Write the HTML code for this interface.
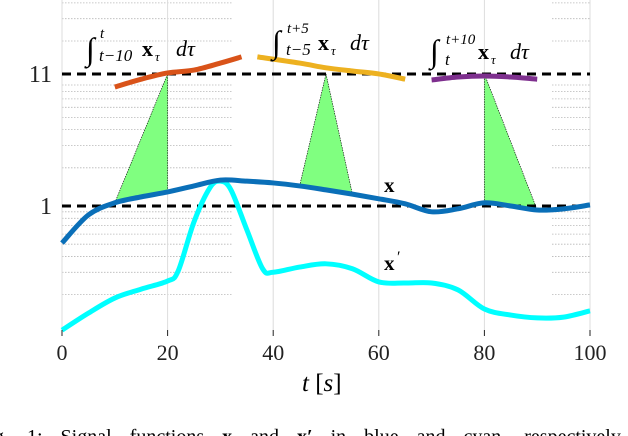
<!DOCTYPE html>
<html><head><meta charset="utf-8"><style>
body{margin:0;background:#fff;width:628px;height:436px;overflow:hidden;position:relative;font-family:"Liberation Serif",serif}
svg{position:absolute;left:0;top:0}
text{font-family:"Liberation Serif",serif}
</style></head><body>
<svg id="chart" width="628" height="436" xmlns="http://www.w3.org/2000/svg">
<g id="grid"></g>
<g id="tri"></g>
<g id="ref"></g>
<g id="lines"></g>
<g id="axes"></g>
<text x="384" y="192" font-size="21" font-weight="bold">x</text>
<text x="384" y="270" font-size="21" font-weight="bold">x</text>
<text x="397" y="262" font-size="16">′</text>
<g font-size="22">
<text x="86" y="60" font-size="32">∫</text>
<text x="100" y="38" font-size="15" font-style="italic">t</text>
<text x="99" y="61" font-size="17" font-style="italic">t−10</text>
<text x="142" y="56" font-weight="bold">x</text>
<text x="155" y="61" font-size="13" font-style="italic">τ</text>
<text x="176" y="56" font-style="italic">dτ</text>
</g>
<g font-size="22">
<text x="272" y="53" font-size="32">∫</text>
<text x="287" y="33" font-size="15" font-style="italic">t+5</text>
<text x="286" y="55" font-size="17" font-style="italic">t−5</text>
<text x="318" y="50" font-weight="bold">x</text>
<text x="331" y="55" font-size="13" font-style="italic">τ</text>
<text x="350" y="50" font-style="italic">dτ</text>
</g>
<g font-size="22">
<text x="430" y="62" font-size="32">∫</text>
<text x="446" y="44" font-size="15" font-style="italic">t+10</text>
<text x="445" y="65" font-size="17" font-style="italic">t</text>
<text x="478" y="59" font-weight="bold">x</text>
<text x="491" y="64" font-size="13" font-style="italic">τ</text>
<text x="510" y="59" font-style="italic">dτ</text>
</g>
<text x="302" y="391" font-size="25"><tspan font-style="italic">t</tspan> [<tspan font-style="italic">s</tspan>]</text>
<text x="-6" y="443" font-size="20" word-spacing="13">g. 1: Signal functions <tspan font-weight="bold">x</tspan> and <tspan font-weight="bold">x′</tspan> in blue and cyan, respectively</text>
</svg>
<script>
const xTicks=[0,20,40,60,80,100];
const yTicks=[1,11];
const tX=[0,5,10,15,20,25,30,35,40,45,50,55,60,65,70,75,80,85,90,95,100];
const vX=[0.51,0.85,1.06,1.18,1.29,1.44,1.60,1.57,1.52,1.44,1.34,1.24,1.14,1.04,0.90,0.95,1.06,1.0,0.93,0.95,1.02];
const tXp=[0,5,10,15,20,22,25,28,30,32,35,38,40,45,50,55,60,65,70,75,80,85,90,95,100];
const vXp=[0.105,0.143,0.188,0.221,0.256,0.307,0.75,1.39,1.57,1.34,0.65,0.32,0.30,0.33,0.35,0.32,0.252,0.247,0.247,0.218,0.154,0.138,0.131,0.133,0.149];
const tPast=[10,15,20,25,30,34];
const vPast=[8.68,10.0,11.2,11.8,13.4,15.0];
const tCent=[37,45,50,55,60,65];
const vCent=[15.0,13.4,12.3,11.6,11.0,10.0];
const tFut=[70,75,80,85,90];
const vFut=[9.86,10.4,10.6,10.4,10.0];
const triBase=[[10,20],[45,55],[80,90]];
const triApex=[20,50,80];
const triApexVal=[11,11,11];
const triBaseVal=[[1.06,1.29],[1.44,1.24],[1.06,0.93]];

const NS="http://www.w3.org/2000/svg";
const X=t=>62+t*5.28;
const Y=v=>206-Math.log10(v)*126.8;
function el(g,tag,attrs){const e=document.createElementNS(NS,tag);for(const k in attrs)e.setAttribute(k,attrs[k]);document.getElementById(g).appendChild(e);return e;}
function smooth(ts,vs){const p=ts.map((t,i)=>[X(t),Y(vs[i])]);let d="M"+p[0][0]+","+p[0][1];
for(let i=0;i<p.length-1;i++){const p0=p[i-1]||p[i],p1=p[i],p2=p[i+1],p3=p[i+2]||p2;
d+=" C"+(p1[0]+(p2[0]-p0[0])/6)+","+(p1[1]+(p2[1]-p0[1])/6)+" "+(p2[0]-(p3[0]-p1[0])/6)+","+(p2[1]-(p3[1]-p1[1])/6)+" "+p2[0]+","+p2[1];}return d;}
const minors=[0.2,0.3,0.4,0.5,0.6,0.7,0.8,0.9,2,3,4,5,6,7,8,9,20,30,40];
minors.forEach(v=>{[[62,232],[552,590]].forEach(r=>{const l=el("grid","line",{x1:r[0],x2:r[1],y1:Y(v),y2:Y(v),stroke:"#b8b8b8","stroke-width":0.8,"stroke-dasharray":"1.5,1.5"});

});});
xTicks.forEach(t=>{const l=el("grid","line",{x1:X(t),x2:X(t),y1:0,y2:330,stroke:"#dcdcdc","stroke-width":1});


const k=el("axes","line",{x1:X(t),x2:X(t),y1:330,y2:336,stroke:"#222","stroke-width":1});


const tx=el("axes","text",{x:X(t),y:360,"font-size":22,"text-anchor":"middle",fill:"#222"});tx.textContent=t;

});
yTicks.forEach(v=>{const l=el("ref","line",{x1:62,x2:590,y1:Y(v),y2:Y(v),stroke:"#000","stroke-width":3,"stroke-dasharray":"9,6"});


const tx=el("axes","text",{x:52,y:Y(v)+8,"font-size":24,"text-anchor":"end",fill:"#222"});tx.textContent=v;

});
triApex.forEach((a,i)=>{const pts=[[X(triBase[i][0]),Y(triBaseVal[i][0])],[X(a),Y(triApexVal[i])],[X(triBase[i][1]),Y(triBaseVal[i][1])]];
const p=el("tri","polygon",{points:pts.map(q=>q.join(",")).join(" "),fill:"#80ff80",stroke:"#000","stroke-width":0.6,"stroke-dasharray":"1.5,1"});

});
const ser=[[tXp,vXp,"#00ffff","series-x-prime"],[tX,vX,"#0a6fb8","series-x"],[tPast,vPast,"#d95319","integral-past"],[tCent,vCent,"#edb120","integral-centered"],[tFut,vFut,"#7e2f8e","integral-future"]];
ser.forEach(s=>{const p=el("lines","path",{d:smooth(s[0],s[1]),fill:"none",stroke:s[2],"stroke-width":5,"stroke-linecap":"butt"});

});
</script>
</body></html>
